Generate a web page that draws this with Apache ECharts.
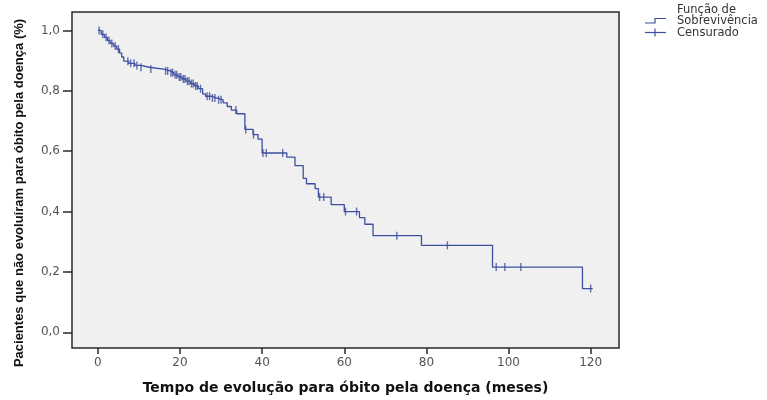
<!DOCTYPE html>
<html>
<head>
<meta charset="utf-8">
<script src="https://cdn.jsdelivr.net/npm/echarts@6/dist/echarts.min.js"></script>
<style>html,body{margin:0;padding:0;background:#fff;}#c{width:767px;height:400px;}</style>
</head>
<body>
<div id="c"></div>
<script>
// Kaplan-Meier step curve: event times (months) and survival after each event
const stepTimes = [0, 0.8, 1.6, 2.3, 3.0, 3.8, 4.6, 5.3, 5.8, 6.3, 7.5, 9.0, 10.5, 12.5, 16.0, 17.5, 18.5, 19.5, 20.5, 21.5, 22.5, 23.5, 24.5, 25.5, 26.2, 27.5, 29.0, 30.5, 31.5, 32.5, 33.8, 35.8, 37.8, 39.0, 40.0, 46.0, 48.0, 50.0, 50.8, 52.9, 53.7, 56.8, 60.0, 63.7, 65.0, 67.0, 78.8, 96.1, 118.0, 120.5];
const stepSurv  = [1.0, 0.987, 0.977, 0.967, 0.957, 0.948, 0.938, 0.925, 0.912, 0.898, 0.891, 0.884, 0.878, 0.872, 0.866, 0.860, 0.853, 0.846, 0.839, 0.832, 0.824, 0.816, 0.807, 0.790, 0.782, 0.776, 0.770, 0.760, 0.748, 0.736, 0.724, 0.672, 0.655, 0.640, 0.594, 0.580, 0.552, 0.510, 0.492, 0.476, 0.448, 0.423, 0.400, 0.380, 0.358, 0.320, 0.288, 0.216, 0.145, 0.145];
// Censored observations (months)
const censorTimes = [0.3, 1.2, 2.0, 2.7, 3.4, 4.2, 5.0, 7.3, 8.0, 8.8, 9.5, 10.5, 12.9, 16.5, 17.0, 17.8, 18.2, 18.8, 19.2, 19.8, 20.2, 20.8, 21.2, 21.8, 22.2, 22.8, 23.2, 23.8, 24.2, 25.0, 26.6, 27.2, 27.9, 28.5, 29.4, 30.0, 33.6, 36.0, 37.9, 40.2, 41.0, 45.0, 54.0, 55.0, 60.3, 63.0, 72.8, 85.1, 97.0, 99.1, 103.0, 120.0];
const xTicks = [0, 20, 40, 60, 80, 100, 120];
const yTicks = [0, 0.2, 0.4, 0.6, 0.8, 1.0];

const lineColor = '#3d4f9f';
function survAt(t) {
  let s = stepSurv[0];
  for (let i = 0; i < stepTimes.length; i++) { if (stepTimes[i] <= t) s = stepSurv[i]; }
  return s;
}
const chart = echarts.init(document.getElementById('c'), null, {renderer: 'canvas'});
chart.setOption({
  animation: false,
  grid: {left: 72, top: 12, width: 547, height: 345, show: true, backgroundColor: '#f0f0f0', borderColor: '#2a2a2a', borderWidth: 1.5},
  xAxis: {
    type: 'value', min: -6.3, max: 126.9,
    axisLine: {show: false, onZero: false},
    splitLine: {show: false},
    axisTick: {show: true, length: 6, customValues: xTicks, lineStyle: {color: '#2a2a2a', width: 1.5}},
    axisLabel: {customValues: xTicks, margin: 9, color: '#555', fontSize: 12, fontFamily: 'DejaVu Sans'},
    name: 'Tempo de evolução para óbito pela doença (meses)', nameLocation: 'middle', nameGap: 33,
    nameTextStyle: {fontWeight: 'bold', fontSize: 14, color: '#111', fontFamily: 'DejaVu Sans'}
  },
  yAxis: {
    type: 'value', min: -0.052, max: 1.061,
    axisLine: {show: false, onZero: false},
    splitLine: {show: false},
    axisTick: {show: true, length: 9, customValues: yTicks, lineStyle: {color: '#2a2a2a', width: 1.5}},
    axisLabel: {customValues: yTicks, margin: 12, color: '#555', fontSize: 12, fontFamily: 'DejaVu Sans',
      formatter: v => v.toFixed(1).replace('.', ',')}
  },
  series: [
    {type: 'line', step: 'end', symbol: 'none', silent: true,
     data: stepTimes.map((t, i) => [t, stepSurv[i]]),
     lineStyle: {color: lineColor, width: 1.3}},
    {type: 'scatter', symbol: 'rect', symbolSize: [1.4, 8], silent: true,
     data: censorTimes.map(t => [t, survAt(t)]),
     itemStyle: {color: lineColor}}
  ],
  graphic: [
    {type: 'text', x: 19, y: 193, rotation: Math.PI / 2,
     style: {text: 'Pacientes que não evoluíram para óbito pela doença (%)', fill: '#111',
       font: 'bold 13px "Liberation Sans Narrow", "Arial Narrow", "Liberation Sans", sans-serif',
       textAlign: 'center', textVerticalAlign: 'middle'}},
    {type: 'polyline', shape: {points: [[645, 23], [655, 23], [655, 18.5], [666, 18.5]]},
     style: {stroke: lineColor, lineWidth: 1.2, fill: null}},
    {type: 'line', shape: {x1: 645, y1: 32.5, x2: 666, y2: 32.5}, style: {stroke: lineColor, lineWidth: 1.2}},
    {type: 'line', shape: {x1: 655, y1: 28.5, x2: 655, y2: 36.5}, style: {stroke: lineColor, lineWidth: 1.2}},
    {type: 'text', x: 677, y: 4, style: {text: 'Função de\nSobrevivência', fill: '#333', font: '11.5px "DejaVu Sans", sans-serif', lineHeight: 11.5}},
    {type: 'text', x: 677, y: 27, style: {text: 'Censurado', fill: '#333', font: '11.5px "DejaVu Sans", sans-serif'}}
  ]
});
</script>
</body>
</html>
